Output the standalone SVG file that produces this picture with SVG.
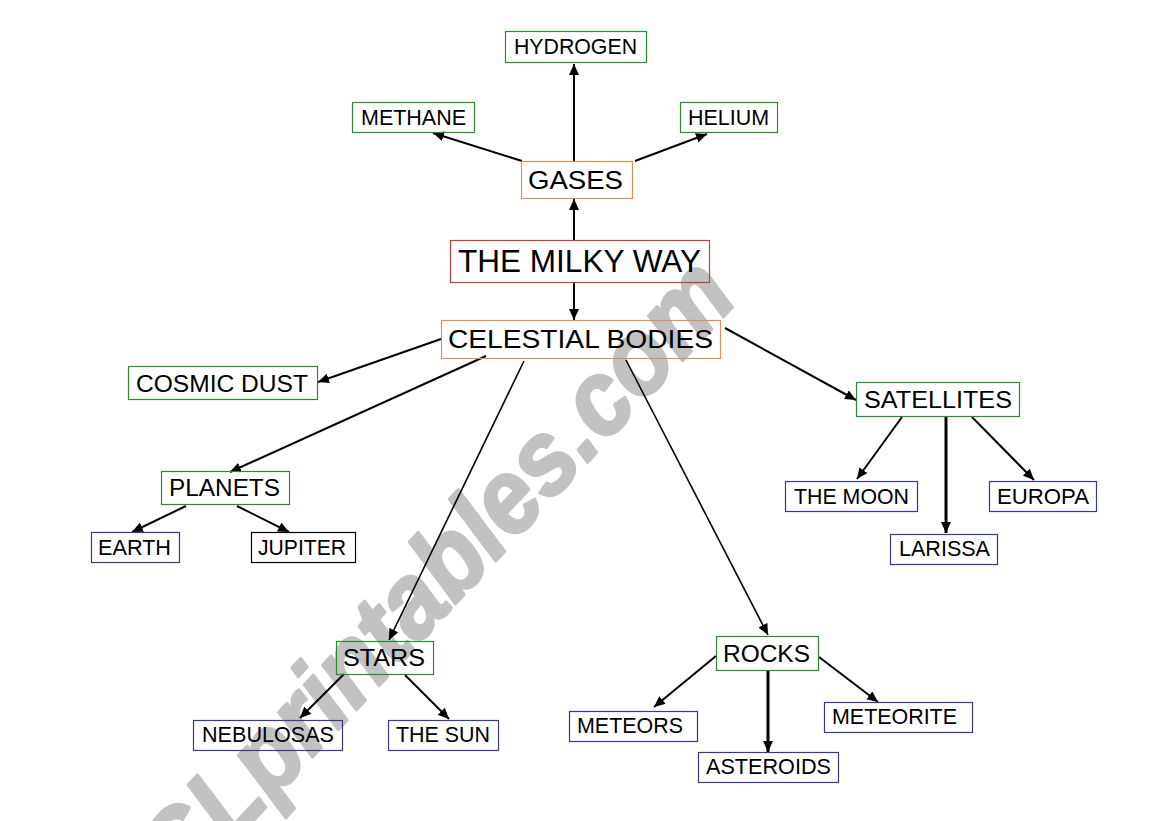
<svg xmlns="http://www.w3.org/2000/svg" width="1169" height="821" viewBox="0 0 1169 821">
<style>
text{font-family:"Liberation Sans",Arial,sans-serif;fill:#000}
.box{fill:none;stroke-width:1.2}
.g{stroke:#2f8a2f}
.o{stroke:#e0905a}
.r{stroke:#cc3a3a}
.n{stroke:#3a3a85}
.k{stroke:#000}
.s1{font-size:21.5px}
.s2{font-size:24.5px}
.c{fill:none;stroke:#000;stroke-width:2}
.thin{stroke-width:1.6}
.thick{stroke-width:3}
.wm{font-family:"Liberation Sans",Arial,sans-serif;font-weight:bold;font-style:italic;font-size:105px;fill:#c2c2c2;stroke:#c2c2c2;stroke-width:3;stroke-linejoin:round}
</style>
<defs>
<marker id="ah" markerUnits="userSpaceOnUse" markerWidth="11" markerHeight="10" refX="11" refY="5" orient="auto">
<path d="M0,0 L11,5 L0,10 z" fill="#000"/>
</marker>
</defs>
<rect width="1169" height="821" fill="#fff"/>
<text class="wm" x="143" y="939" textLength="875" lengthAdjust="spacingAndGlyphs" transform="rotate(-47 143 939)">ESLprintables.com</text>

<g id="connectors" marker-end="url(#ah)">
<line class="c" x1="574" y1="240" x2="574" y2="199"/>
<line class="c" x1="574" y1="161" x2="574" y2="64"/>
<line class="c" x1="522" y1="161" x2="433" y2="133"/>
<line class="c" x1="635" y1="161" x2="707" y2="134"/>
<line class="c" x1="574" y1="283" x2="574" y2="320"/>
<line class="c" x1="441" y1="339" x2="318" y2="382"/>
<line class="c" x1="486" y1="356" x2="230" y2="472"/>
<line class="c thin" x1="524" y1="361" x2="389" y2="640"/>
<line class="c thin" x1="626" y1="360" x2="768" y2="635"/>
<line class="c" x1="725" y1="328" x2="856" y2="400"/>
<line class="c" x1="186" y1="506" x2="132" y2="532"/>
<line class="c" x1="237" y1="506" x2="289" y2="532"/>
<line class="c" x1="902" y1="417" x2="857" y2="479"/>
<line class="c thick" x1="946" y1="417" x2="946" y2="533"/>
<line class="c" x1="972" y1="417" x2="1034" y2="480"/>
<line class="c" x1="344" y1="674" x2="300" y2="718"/>
<line class="c" x1="405" y1="675" x2="449" y2="719"/>
<line class="c" x1="716" y1="656" x2="654" y2="707"/>
<line class="c thick" x1="768" y1="671" x2="768" y2="752"/>
<line class="c" x1="819" y1="657" x2="878" y2="702"/>
</g>

<g id="hydrogen"><rect class="box g" x="505.5" y="31.5" width="141" height="31"/><text class="s1" x="514" y="54" textLength="123" lengthAdjust="spacingAndGlyphs">HYDROGEN</text></g>
<g id="methane"><rect class="box g" x="352.5" y="102.5" width="122" height="30"/><text class="s1" x="361" y="125" textLength="105" lengthAdjust="spacingAndGlyphs">METHANE</text></g>
<g id="helium"><rect class="box g" x="680.5" y="102.5" width="97" height="30"/><text class="s1" x="688" y="125" textLength="81" lengthAdjust="spacingAndGlyphs">HELIUM</text></g>
<g id="gases"><rect class="box o" x="521.5" y="161.5" width="111" height="37"/><text style="font-size:25px" x="528" y="189" textLength="95" lengthAdjust="spacingAndGlyphs">GASES</text></g>
<g id="milkyway"><rect class="box r" x="450.5" y="240.5" width="259" height="42"/><text style="font-size:31px" x="458" y="272" textLength="243" lengthAdjust="spacingAndGlyphs">THE MILKY WAY</text></g>
<g id="celestial"><rect class="box o" x="441.5" y="320.5" width="279" height="38"/><text style="font-size:26px" x="448" y="348" textLength="265" lengthAdjust="spacingAndGlyphs">CELESTIAL BODIES</text></g>
<g id="cosmicdust"><rect class="box g" x="128.5" y="366.5" width="189" height="33"/><text style="font-size:23.5px" x="136" y="392" textLength="172" lengthAdjust="spacingAndGlyphs">COSMIC DUST</text></g>
<g id="planets"><rect class="box g" x="161.5" y="471.5" width="128" height="33"/><text class="s2" x="169" y="496" textLength="111" lengthAdjust="spacingAndGlyphs">PLANETS</text></g>
<g id="earth"><rect class="box n" x="91.5" y="532.5" width="88" height="30"/><text class="s1" x="98" y="555" textLength="73" lengthAdjust="spacingAndGlyphs">EARTH</text></g>
<g id="jupiter"><rect class="box k" x="251.5" y="532.5" width="104" height="30"/><text class="s1" x="258" y="555" textLength="88" lengthAdjust="spacingAndGlyphs">JUPITER</text></g>
<g id="satellites"><rect class="box g" x="856.5" y="382.5" width="163" height="34"/><text class="s2" x="864" y="408" textLength="148" lengthAdjust="spacingAndGlyphs">SATELLITES</text></g>
<g id="themoon"><rect class="box n" x="785.5" y="481.5" width="132" height="30"/><text class="s1" x="794" y="504" textLength="115" lengthAdjust="spacingAndGlyphs">THE MOON</text></g>
<g id="europa"><rect class="box n" x="989.5" y="481.5" width="107" height="30"/><text class="s1" x="997" y="504" textLength="92" lengthAdjust="spacingAndGlyphs">EUROPA</text></g>
<g id="larissa"><rect class="box n" x="890.5" y="534.5" width="107" height="30"/><text class="s1" x="899" y="556" textLength="91" lengthAdjust="spacingAndGlyphs">LARISSA</text></g>
<g id="stars"><rect class="box g" x="336.5" y="641.5" width="97" height="33"/><text class="s2" x="343" y="666" textLength="82" lengthAdjust="spacingAndGlyphs">STARS</text></g>
<g id="nebulosas"><rect class="box n" x="193.5" y="720.5" width="149" height="30"/><text class="s1" x="202" y="742" textLength="132" lengthAdjust="spacingAndGlyphs">NEBULOSAS</text></g>
<g id="thesun"><rect class="box n" x="388.5" y="720.5" width="110" height="30"/><text class="s1" x="396" y="742" textLength="94" lengthAdjust="spacingAndGlyphs">THE SUN</text></g>
<g id="rocks"><rect class="box g" x="716.5" y="636.5" width="102" height="34"/><text class="s2" x="723" y="662" textLength="87" lengthAdjust="spacingAndGlyphs">ROCKS</text></g>
<g id="meteors"><rect class="box n" x="569.5" y="711.5" width="128" height="30"/><text class="s1" x="577" y="733" textLength="106" lengthAdjust="spacingAndGlyphs">METEORS</text></g>
<g id="asteroids"><rect class="box n" x="698.5" y="752.5" width="140" height="30"/><text class="s1" x="706" y="774" textLength="125" lengthAdjust="spacingAndGlyphs">ASTEROIDS</text></g>
<g id="meteorite"><rect class="box n" x="824.5" y="702.5" width="148" height="30"/><text class="s1" x="832" y="724" textLength="125" lengthAdjust="spacingAndGlyphs">METEORITE</text></g>
</svg>
